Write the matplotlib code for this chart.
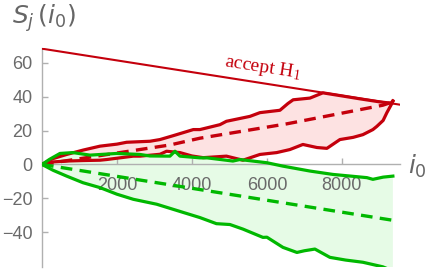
import numpy as np
import matplotlib
matplotlib.use("Agg")
import matplotlib.pyplot as plt

# red: sequences drawn under H1
red_up_x = [0, 300, 658, 1100, 1547, 2000, 2258, 2880, 3147, 3500, 4036, 4213, 4747, 4920,
            5547, 5813, 6347, 6560, 6700, 7147, 7493, 8000, 8500, 9000, 9300, 9360]
red_up_y = [0, 3.5, 5.9, 8.5, 10.8, 12, 13.1, 13.7, 14.7, 17, 20.6, 20.6, 23.5, 25.5,
            28.4, 30.6, 32, 36, 38.2, 39.2, 42.3, 40.5, 38.7, 37, 36.2, 37.5]
red_lo_x = [0, 300, 658, 1100, 1547, 1724, 2436, 2613, 3147, 3324, 3680, 4000, 4300, 4920,
            5360, 5813, 6260, 6613, 6960, 7333, 7600, 7947, 8300, 8560, 8827, 8933, 9100,
            9200, 9333, 9360]
red_lo_y = [0, 1.5, 2, 2.3, 2.5, 2.9, 4.9, 4.9, 6, 7.8, 7, 5, 4, 4.9,
            2.5, 5.9, 7, 8.8, 11.8, 10, 9.5, 14.7, 16, 17.6, 20.6, 22.5, 26,
            30.6, 36, 37.5]
red_mean_x = [0, 3413, 4213, 6533, 9093, 9360]
red_mean_y = [0, 11.5, 15.5, 24, 35, 37]

# green: sequences drawn under H0
grn_up_x = [0, 200, 480, 827, 1280, 2000, 2613, 2880, 3413, 3547, 3680, 4213, 4400, 5093,
            5280, 6000, 6427, 7147, 7760, 8667, 8827, 9100, 9360]
grn_up_y = [0, 3, 6.5, 7, 5.5, 6.5, 5.9, 5, 4.9, 7.8, 4.9, 3.9, 3.9, 2,
            2.9, 1, -1, -3.9, -5.9, -7.8, -8.8, -7.5, -6.9]
grn_lo_x = [0, 300, 658, 1093, 1547, 2000, 2436, 3058, 3773, 4213, 4653, 5013, 5360, 5893,
            6000, 6427, 6800, 7000, 7280, 7680, 8100, 8560, 9093, 9200, 9360]
grn_lo_y = [0, -3.5, -6.9, -10.8, -13.7, -17.6, -20.6, -23.5, -28.4, -31.4, -35, -35.5, -38.2, -43.1,
            -43, -49, -52, -51, -50, -54.9, -56.5, -57.8, -60.5, -61.5, -62.5]
grn_mean_x = [0, 9360]
grn_mean_y = [0, -33]

# accept H1 boundary
bound_x = [0, 9550]
bound_y = [68.4, 35.3]

xticks = [2000, 4000, 6000, 8000]
yticks = [-40, -20, 0, 20, 40, 60]

red = '#c4000c'
green = '#00b800'

fig = plt.figure(figsize=(4.36, 2.71), dpi=100)
ax = fig.add_axes([42/436, 4/271, 358/436, 219/271])

ax.fill(red_up_x + red_lo_x[::-1], red_up_y + red_lo_y[::-1], color='#fde2e2', lw=0, zorder=1)
ax.fill(grn_up_x + grn_lo_x[::-1], grn_up_y + grn_lo_y[::-1], color='#e6fbe6', lw=0, zorder=1)

ax.plot(bound_x, bound_y, color=red, lw=1.5, zorder=3)
ax.plot(red_up_x, red_up_y, color=red, lw=2.3, zorder=3, solid_joinstyle='round')
ax.plot(red_lo_x, red_lo_y, color=red, lw=2.3, zorder=3, solid_joinstyle='round')
ax.plot(red_mean_x, red_mean_y, color=red, lw=2.4, ls=(0, (3.5, 2.2)), zorder=3)
ax.plot(grn_up_x, grn_up_y, color=green, lw=2.3, zorder=4, solid_joinstyle='round')
ax.plot(grn_lo_x, grn_lo_y, color=green, lw=2.3, zorder=4, solid_joinstyle='round')
ax.plot(grn_mean_x, grn_mean_y, color=green, lw=2.4, ls=(0, (3.5, 2.2)), zorder=4)

ax.set_xlim(0, 9550)
ax.set_ylim(-60.6, 68.8)

for s in ['top', 'right']:
    ax.spines[s].set_visible(False)
ax.spines['bottom'].set_position(('data', 0))
for s in ['left', 'bottom']:
    ax.spines[s].set_color('#b0b0b0')
    ax.spines[s].set_linewidth(1)
ax.spines['bottom'].set_zorder(2)
ax.set_xticks(xticks)
ax.set_yticks(yticks)
ax.tick_params(direction='in', length=4, width=1, color='#b0b0b0',
               labelcolor='#6a6a6a', labelsize=13)
ax.tick_params(axis='x', pad=9)
ax.tick_params(axis='y', pad=7)
for lab in ax.get_xticklabels() + ax.get_yticklabels():
    lab.set_family('Liberation Sans')
    lab.set_zorder(5)
ax.set_facecolor('none')

ax.text(5900, 57, r'accept H$_{\mathregular{1}}$', color=red, fontsize=14,
        family='Liberation Serif', math_fontfamily='stix',
        rotation=-9, ha='center', va='center')

fig.text(12/436, 1 - 18/271, r'$S_j\,(i_0)$', color='#666666', fontsize=18,
         math_fontfamily='dejavusans', va='center', ha='left')
fig.text(408/436, 1 - 166/271, r'$i_0$', color='#666666', fontsize=18,
         math_fontfamily='dejavusans', va='center', ha='left')

fig.savefig('out.png', dpi=100)
